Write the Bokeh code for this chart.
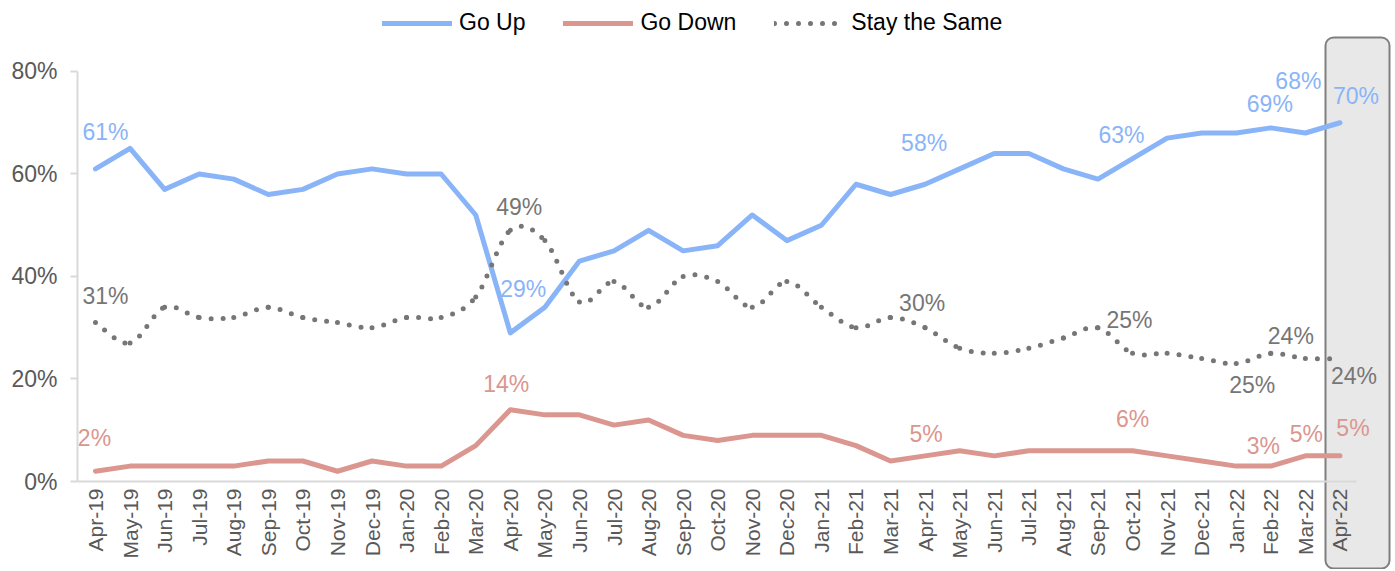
import numpy as np
from bokeh.plotting import figure
from bokeh.models import (ColumnDataSource, FixedTicker, Legend, LegendItem,
                          BoxAnnotation, Range1d)
from bokeh.core.properties import value
from bokeh.embed import file_html
from bokeh.resources import INLINE

# ---------------- data ----------------
months = ["Apr-19", "May-19", "Jun-19", "Jul-19", "Aug-19", "Sep-19", "Oct-19",
          "Nov-19", "Dec-19", "Jan-20", "Feb-20", "Mar-20", "Apr-20", "May-20",
          "Jun-20", "Jul-20", "Aug-20", "Sep-20", "Oct-20", "Nov-20", "Dec-20",
          "Jan-21", "Feb-21", "Mar-21", "Apr-21", "May-21", "Jun-21", "Jul-21",
          "Aug-21", "Sep-21", "Oct-21", "Nov-21", "Dec-21", "Jan-22", "Feb-22",
          "Mar-22", "Apr-22"]

go_up = [61, 65, 57, 60, 59, 56, 57, 60, 61, 60, 60, 52, 29, 34, 43, 45, 49,
         45, 46, 52, 47, 50, 58, 56, 58, 61, 64, 64, 61, 59, 63, 67, 68, 68,
         69, 68, 70]
go_down = [2, 3, 3, 3, 3, 4, 4, 2, 4, 3, 3, 7, 14, 13, 13, 11, 12, 9, 8, 9, 9,
           9, 7, 4, 5, 6, 5, 6, 6, 6, 6, 5, 4, 3, 3, 5, 5]
stay_same = [31, 27, 34, 32, 32, 34, 32, 31, 30, 32, 32, 36, 49, 47, 35, 39, 34,
             40, 39, 34, 39, 34, 30, 32, 30, 26, 25, 26, 28, 30, 25, 25, 24, 23,
             25, 24, 24]

y_ticks = [0, 20, 40, 60, 80]
y_tick_labels = ["0%", "20%", "40%", "60%", "80%"]

# data labels (month index, text) as shown on the chart
up_label_idx = [0, 12, 24, 30, 34, 35, 36]
up_label_txt = ["61%", "29%", "58%", "63%", "69%", "68%", "70%"]
down_label_idx = [0, 12, 24, 30, 33, 35, 36]
down_label_txt = ["2%", "14%", "5%", "6%", "3%", "5%", "5%"]
stay_label_idx = [0, 12, 24, 30, 33, 34, 36]
stay_label_txt = ["31%", "49%", "30%", "25%", "25%", "24%", "24%"]

# label placement (screen px offsets from the data point)
up_off_x = [10, 13, -1, -11, -1, -7, 16]
up_off_y = [-37, -44, -41, -24, -24, -52, -27]
down_off_x = [-1, -4, 1, 0, 27, 1, 13]
down_off_y = [-33, -26, -22, -32, -20, -22, -28]
stay_off_x = [10, 9, -3, -3, 16, 20, 14]
stay_off_y = [-27, -23, -25, -33, 21, -17, 18]

# ---------------- styles ----------------
C_UP = "#8AB4F8"
C_DOWN = "#DA968F"
C_STAY = "#767676"
AX = "#D9D9D9"
TXT = "#595959"
FONT = "Liberation Sans"

x = list(range(len(months)))

p = figure(width=1392, height=569, output_backend="svg", toolbar_location=None,
           x_range=Range1d(-0.52, 37.52), y_range=Range1d(-17.17, 93.85),
           min_border_left=77, min_border_right=0, min_border_top=0,
           min_border_bottom=0)
p.outline_line_color = None
p.xgrid.visible = False
p.ygrid.visible = False
p.background_fill_color = None
p.border_fill_color = "white"

# highlight box for the latest month (canvas pixel units)
box = BoxAnnotation(left=1325, right=1389, top=37, bottom=568,
                    left_units="canvas", right_units="canvas",
                    top_units="canvas", bottom_units="canvas",
                    fill_color="#E8E8E8", fill_alpha=1.0,
                    line_color="#7F7F7F", line_alpha=1.0, line_width=2,
                    border_radius=8, level="underlay")
p.add_layout(box)

# axes
p.yaxis.ticker = FixedTicker(ticks=y_ticks)
p.yaxis.major_label_overrides = {t: l for t, l in zip(y_ticks, y_tick_labels)}
p.yaxis.axis_line_color = AX
p.yaxis.axis_line_width = 2
p.yaxis.major_tick_line_color = AX
p.yaxis.major_tick_line_width = 2
p.yaxis.major_tick_out = 7
p.yaxis.major_tick_in = 0
p.yaxis.minor_tick_line_color = None
p.yaxis.major_label_standoff = 13
p.yaxis.major_label_text_font = FONT
p.yaxis.major_label_text_font_size = "23px"
p.yaxis.major_label_text_color = TXT
p.yaxis.bounds = (0, 80)

p.xaxis.fixed_location = 0
p.xaxis.ticker = FixedTicker(ticks=x)
p.xaxis.major_label_overrides = {i: m for i, m in zip(x, months)}
p.xaxis.major_label_orientation = np.pi / 2
p.xaxis.axis_line_color = AX
p.xaxis.axis_line_width = 2
p.xaxis.major_tick_line_color = None
p.xaxis.minor_tick_line_color = None
p.xaxis.major_tick_out = 0
p.xaxis.major_tick_in = 0
p.xaxis.major_label_standoff = 7
p.xaxis.major_label_text_font = FONT
p.xaxis.major_label_text_font_size = "21px"
p.xaxis.major_label_text_color = TXT
p.xaxis.bounds = (-0.52, 36.49)

# lines
r_up = p.line(x, go_up, line_color=C_UP, line_width=5, line_join="round",
              line_cap="round")
r_down = p.line(x, go_down, line_color=C_DOWN, line_width=5, line_join="round",
                line_cap="round")

# smoothed dotted line (Catmull-Rom -> cubic Bezier through the data points)
sx = np.array(x, dtype=float)
sy = np.array(stay_same, dtype=float)
px = np.concatenate([[sx[0]], sx, [sx[-1]]])
py = np.concatenate([[sy[0]], sy, [sy[-1]]])
n = len(sx)
x0 = sx[:-1]; y0 = sy[:-1]; x1 = sx[1:]; y1 = sy[1:]
cx0 = px[1:n] + (px[2:n + 1] - px[0:n - 1]) / 6.0
cy0 = py[1:n] + (py[2:n + 1] - py[0:n - 1]) / 6.0
cx1 = px[2:n + 1] - (px[3:n + 2] - px[1:n]) / 6.0
cy1 = py[2:n + 1] - (py[3:n + 2] - py[1:n]) / 6.0
bsrc = ColumnDataSource(dict(x0=x0, y0=y0, x1=x1, y1=y1, cx0=cx0, cy0=cy0,
                             cx1=cx1, cy1=cy1))
r_stay = p.bezier(x0="x0", y0="y0", x1="x1", y1="y1", cx0="cx0", cy0="cy0",
                  cx1="cx1", cy1="cy1", source=bsrc, line_color=C_STAY,
                  line_width=5, line_dash="0 12", line_cap="round")


def add_labels(idx, txt, ox, oy, series, color):
    src = ColumnDataSource(dict(x=idx, y=[series[i] for i in idx], text=txt,
                                xo=ox, yo=oy))
    p.text(x="x", y="y", text="text", x_offset="xo", y_offset="yo",
           source=src, text_align="center", text_baseline="middle",
           text_font=value(FONT), text_font_size="23px", text_color=color)


add_labels(up_label_idx, up_label_txt, up_off_x, up_off_y, go_up, C_UP)
add_labels(down_label_idx, down_label_txt, down_off_x, down_off_y, go_down, C_DOWN)
add_labels(stay_label_idx, stay_label_txt, stay_off_x, stay_off_y, stay_same, C_STAY)

legend = Legend(items=[LegendItem(label="Go Up", renderers=[r_up]),
                       LegendItem(label="Go Down", renderers=[r_down]),
                       LegendItem(label="Stay the Same", renderers=[r_stay])],
                orientation="horizontal", location=(305, 533),
                padding=0, margin=0, spacing=38, glyph_width=70,
                glyph_height=24, label_height=24, label_standoff=7,
                label_text_font=FONT, label_text_font_size="23px",
                label_text_color="#000000", background_fill_alpha=0,
                border_line_alpha=0)
p.add_layout(legend)

open("out.html", "w").write(file_html(p, INLINE))
